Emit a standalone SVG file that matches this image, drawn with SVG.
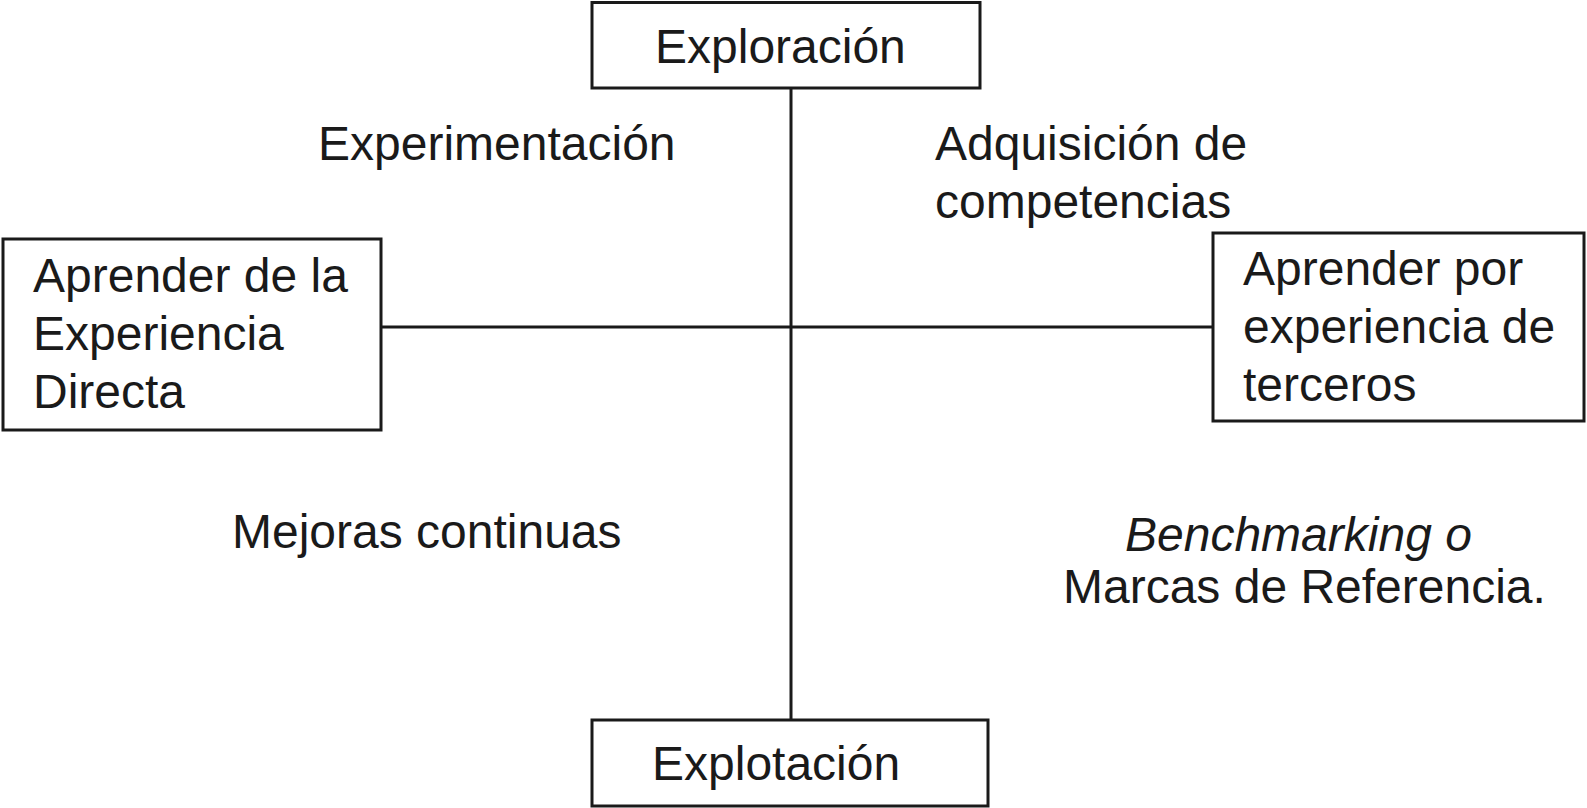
<svg xmlns="http://www.w3.org/2000/svg" width="1587" height="808" viewBox="0 0 1587 808">
<style>
.box{fill:#fff;stroke:#1a1a1a;stroke-width:3}
.ln{stroke:#1a1a1a;stroke-width:3;fill:none}
text{font-family:"Liberation Sans",Arial,sans-serif;font-size:48px;fill:#1a1a1a}
.it{font-style:italic}
</style>
<rect width="1587" height="808" fill="#fff"/>
<g id="connectors">
<line class="ln" x1="791" y1="88" x2="791" y2="720"/>
<line class="ln" x1="381" y1="327" x2="1213" y2="327"/>
</g>
<g id="exploracion">
<rect class="box" x="592" y="2.5" width="388" height="85.5"/>
<text x="655" y="63">Exploración</text>
</g>
<g id="explotacion">
<rect class="box" x="592" y="720" width="396" height="86"/>
<text x="652" y="780">Explotación</text>
</g>
<g id="directa">
<rect class="box" x="3" y="239" width="378" height="191"/>
<text x="33" y="292">Aprender de la</text>
<text x="33" y="350">Experiencia</text>
<text x="33" y="408">Directa</text>
</g>
<g id="terceros">
<rect class="box" x="1213" y="233" width="371" height="188"/>
<text x="1243" y="285">Aprender por</text>
<text x="1243" y="343">experiencia de</text>
<text x="1243" y="401">terceros</text>
</g>
<g id="labels">
<text x="318" y="160">Experimentación</text>
<text x="935" y="160">Adquisición de</text>
<text x="935" y="218">competencias</text>
<text x="232" y="548">Mejoras continuas</text>
<text x="1125" y="551"><tspan class="it">Benchmarking o</tspan></text>
<text x="1063" y="603">Marcas de Referencia.</text>
</g>
</svg>
